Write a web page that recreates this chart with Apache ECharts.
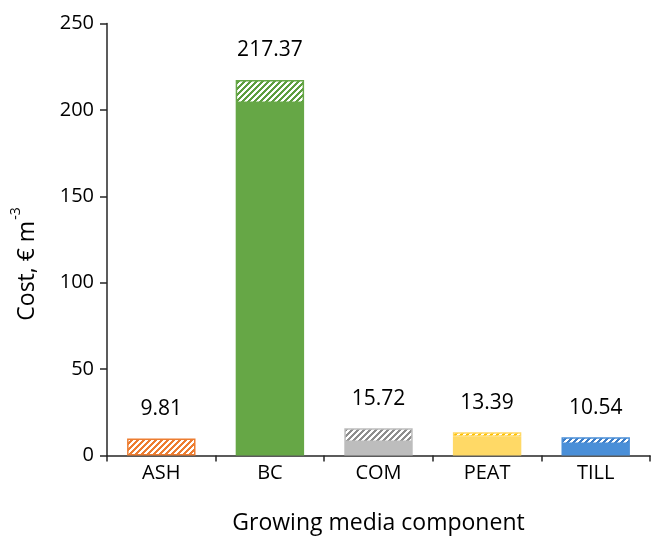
<!DOCTYPE html>
<html><head><meta charset="utf-8">
<script src="https://cdn.jsdelivr.net/npm/echarts@6/dist/echarts.min.js"></script>
<style>html,body{margin:0;padding:0;background:#fff}#c{width:657px;height:538px}</style>
</head><body><div id="c"></div>
<script>
const categories = ['ASH', 'BC', 'COM', 'PEAT', 'TILL'];
const totals = [9.81, 217.37, 15.72, 13.39, 10.54];
const solidPart = [0, 204.0, 7.8, 10.9, 6.6];
const yTicks = [0, 50, 100, 150, 200, 250];
const solidColors = ['#ED7D31', '#66A746', '#BDBDBD', '#FFD966', '#4A8FD8'];
const hatchColors = ['#ED7D31', '#5E9E40', '#8E8E8E', '#FFC000', '#3C7DC8'];

function pattern(color) {
  const n = 6;
  const c = document.createElement('canvas');
  c.width = n; c.height = n;
  const ctx = c.getContext('2d');
  ctx.fillStyle = '#ffffff';
  ctx.fillRect(0, 0, n, n);
  ctx.fillStyle = color;
  for (let x = 0; x < n; x++) for (let y = 0; y < n; y++) {
    if (((x + y) % n) < n / 2) ctx.fillRect(x, y, 1, 1);
  }
  return { image: c, repeat: 'repeat' };
}

const solidData = solidPart.map((v, i) => ({ value: v, itemStyle: { color: solidColors[i] } }));
const hatchData = totals.map((t, i) => ({
  value: +(t - solidPart[i]).toFixed(2),
  itemStyle: { color: pattern(hatchColors[i]), borderColor: solidColors[i], borderWidth: 1.5 }
}));

const chart = echarts.init(document.getElementById('c'), null, { renderer: 'canvas' });
const font = 'Open Sans';
chart.setOption({
  animation: false,
  textStyle: { fontFamily: font },
  grid: { left: 107, right: 7, top: 23.5, bottom: 82.5, containLabel: false, outerBoundsMode: 'none' },
  xAxis: {
    type: 'category',
    data: categories,
    name: 'Growing media component',
    nameLocation: 'middle',
    nameGap: 56,
    nameTextStyle: { fontSize: 23, color: '#000', fontFamily: font },
    axisLine: { lineStyle: { color: '#262626', width: 1.5 } },
    axisTick: { show: true, length: 6, lineStyle: { color: '#262626', width: 1.5 } },
    axisLabel: { fontSize: 20, color: '#000', margin: 8, fontFamily: font }
  },
  yAxis: {
    type: 'value',
    min: 0, max: 250, interval: 50,
    axisLine: { show: true, lineStyle: { color: '#262626', width: 1.5 } },
    axisTick: { show: true, length: 7, lineStyle: { color: '#262626', width: 1.5 } },
    axisLabel: { fontSize: 20, color: '#000', margin: 13, fontFamily: font,
      formatter: v => yTicks.includes(v) ? String(v) : '' },
    splitLine: { show: false }
  },
  graphic: [{
    type: 'text',
    x: 24, y: 264,
    rotation: Math.PI / 2,
    style: {
      text: '{a|Cost, € m}{s|-3}',
      align: 'center', verticalAlign: 'middle',
      fill: '#000',
      rich: {
        a: { fontSize: 23, fontFamily: font, fill: '#000', lineHeight: 30, verticalAlign: 'bottom' },
        s: { fontSize: 14, fontFamily: font, fill: '#000', lineHeight: 30, verticalAlign: 'top', padding: [0, 0, 0, 1] }
      }
    }
  }],
  series: [
    { type: 'bar', stack: 's', barWidth: '63%', data: solidData, silent: true },
    { type: 'bar', stack: 's', barWidth: '63%', data: hatchData, silent: true,
      label: { show: true, position: 'top', distance: 19, fontSize: 21, color: '#000', fontFamily: font,
        formatter: p => totals[p.dataIndex].toFixed(2) } }
  ]
});
</script></body></html>
